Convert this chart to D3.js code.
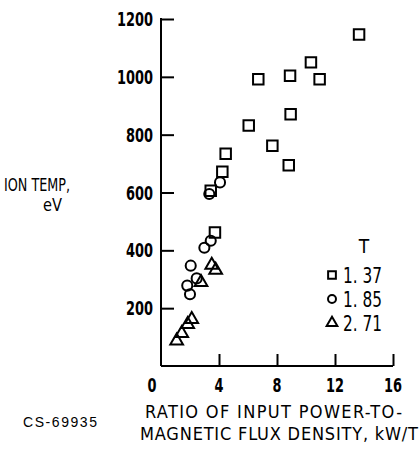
<!DOCTYPE html>
<meta charset="utf-8">
<script src="https://d3js.org/d3.v7.min.js"></script>
<style>
  body { margin: 0; background: #fff; }
  text { font-family: "Liberation Sans Narrow", "DejaVu Sans Condensed", sans-serif; fill: #000; }
</style>
<div id="my_dataviz"></div>
<script>

  // data: [ratio kW/T, ion temp eV]
  var series137 = [[13.66,1146],[10.34,1050],[8.90,1004],[10.94,992],[6.71,992],[8.94,871],
                   [6.05,832],[7.68,762],[8.81,694],[4.46,734],[4.23,672],[3.43,606],[3.72,462]];
  var series185 = [[4.07,635],[3.33,595],[3.43,433],[2.99,409],[2.05,347],[2.46,303],[1.81,278],[2.0,248]];
  var series271 = [[2.76,289],[3.50,349],[3.77,332],[2.12,161],[1.84,144],[1.43,113],[1.08,87]];
  var legendLabels = ["1. 37", "1. 85", "2. 71"];
  var xTicks = [0, 4, 8, 12, 16];
  var yTicks = [200, 400, 600, 800, 1000, 1200];

  var width = 420, height = 450;

  var svg = d3.select("#my_dataviz")
    .append("svg")
      .attr("width", width)
      .attr("height", height);

  var x = d3.scaleLinear().domain([0, 16]).range([161, 393]);
  var y = d3.scaleLinear().domain([0, 1200]).range([366, 19]);

  // ticks point inward
  var yAxis = d3.axisRight(y).tickValues(yTicks).tickSize(13).tickFormat("");
  svg.append("g")
      .attr("transform", "translate(" + x(0) + ",0)")
      .call(yAxis)
      .call(function(g) {
        g.select(".domain").attr("d", "M0," + y(0) + "V" + (y(1200) - 1));
      });

  var xAxis = d3.axisTop(x).tickValues(xTicks.slice(1)).tickSize(12).tickFormat("");
  svg.append("g")
      .attr("transform", "translate(0," + y(0) + ")")
      .call(xAxis)
      .call(function(g) {
        g.select(".domain").attr("d", "M" + x(0) + ",0H" + x(16));
      });

  svg.selectAll(".domain, .tick line")
      .attr("stroke", "#000")
      .attr("stroke-width", 2);

  // y tick labels (narrow lettering)
  svg.selectAll(".ylab")
    .data(yTicks)
    .enter().append("text")
      .attr("class", "ylab")
      .attr("x", function(d) { return x(0) - 8 - String(d).length * 9; })
      .attr("y", function(d) { return y(d) + 7; })
      .attr("textLength", function(d) { return String(d).length * 9; })
      .attr("lengthAdjust", "spacingAndGlyphs")
      .style("font-size", "20px")
      .style("font-weight", "bold")
      .text(function(d) { return d; });

  // x tick labels
  svg.selectAll(".xlab")
    .data(xTicks)
    .enter().append("text")
      .attr("class", "xlab")
      .attr("x", function(d) { return (d == 0 ? x(d) - 9 : x(d)) - String(d).length * 4.5; })
      .attr("y", 392)
      .attr("textLength", function(d) { return String(d).length * 9; })
      .attr("lengthAdjust", "spacingAndGlyphs")
      .style("font-size", "20px")
      .style("font-weight", "bold")
      .text(function(d) { return d; });

  // axis titles
  svg.append("text")
      .attr("x", 145).attr("y", 418)
      .attr("textLength", 257)
      .style("font-size", "18px")
      .text("RATIO OF INPUT POWER-TO-");
  svg.append("text")
      .attr("x", 140).attr("y", 440)
      .attr("textLength", 278)
      .style("font-size", "18px")
      .text("MAGNETIC FLUX DENSITY, kW/T");

  svg.append("text")
      .attr("x", 4).attr("y", 191)
      .attr("textLength", 66)
      .attr("lengthAdjust", "spacingAndGlyphs")
      .style("font-size", "18px")
      .text("ION TEMP,");
  svg.append("text")
      .attr("x", 43).attr("y", 211)
      .attr("textLength", 19)
      .attr("lengthAdjust", "spacingAndGlyphs")
      .style("font-size", "18px")
      .text("eV");

  svg.append("text")
      .attr("x", 23).attr("y", 427)
      .attr("textLength", 74)
      .style("font-family", "'Liberation Sans', Arial, sans-serif")
      .style("font-size", "14px")
      .text("CS-69935");

  // markers
  var symSquare = d3.symbol().type(d3.symbolSquare).size(110);
  var symCircle = d3.symbol().type(d3.symbolCircle).size(80);
  var symTriangle = d3.symbol().type(d3.symbolTriangle).size(70);

  function drawSeries(data, sym, cls) {
    svg.selectAll("." + cls)
      .data(data)
      .enter().append("path")
        .attr("class", cls)
        .attr("d", sym)
        .attr("transform", function(d) { return "translate(" + x(d[0]) + "," + y(d[1]) + ")"; })
        .attr("fill", "none")
        .attr("stroke", "#000")
        .attr("stroke-width", 2);
  }
  drawSeries(series137, symSquare, "sq");
  drawSeries(series185, symCircle, "ci");
  drawSeries(series271, symTriangle, "tr");

  // legend
  svg.append("text")
      .attr("x", 364).attr("y", 253)
      .attr("text-anchor", "middle")
      .style("font-size", "19px")
      .text("T");

  var legendSyms = [d3.symbol().type(d3.symbolSquare).size(60),
                    d3.symbol().type(d3.symbolCircle).size(50),
                    d3.symbol().type(d3.symbolTriangle).size(50)];
  var legend = svg.selectAll(".leg")
    .data(legendLabels)
    .enter().append("g")
      .attr("class", "leg")
      .attr("transform", function(d, i) { return "translate(332," + (275 + i * 24) + ")"; });
  legend.append("path")
      .attr("d", function(d, i) { return legendSyms[i](); })
      .attr("fill", "none")
      .attr("stroke", "#000")
      .attr("stroke-width", 2);
  legend.append("text")
      .attr("x", 11)
      .attr("y", 8)
      .attr("textLength", 39)
      .attr("lengthAdjust", "spacingAndGlyphs")
      .style("font-size", "21px")
      .text(function(d) { return d; });

</script>
